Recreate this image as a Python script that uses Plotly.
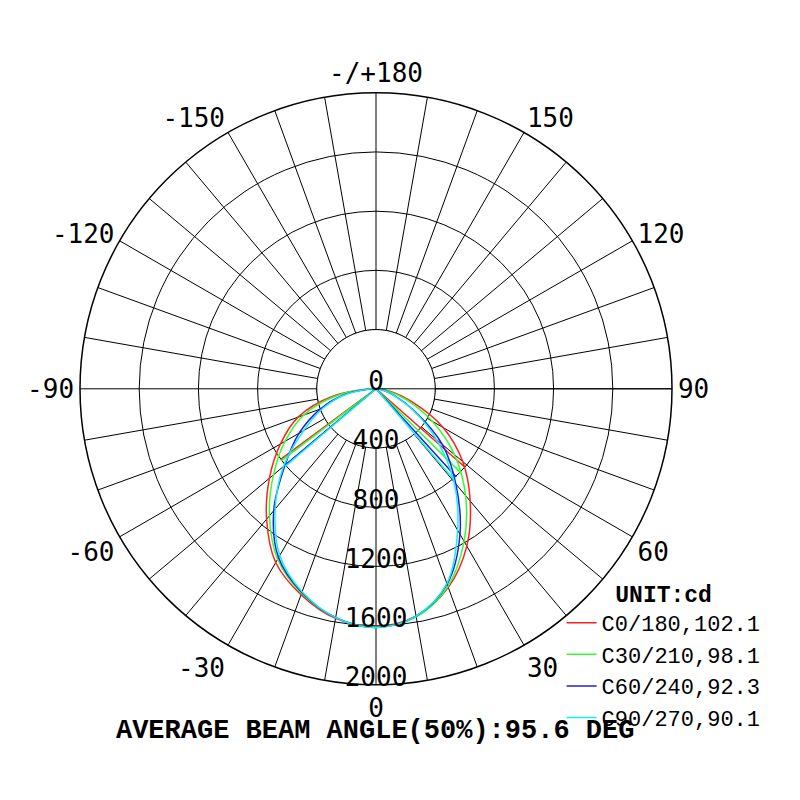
import numpy as np
import plotly.graph_objects as go

# gamma angles (deg), negative = C180.. half, positive = C0.. half
angles = [-90, -80, -70, -60, -50, -40, -30, -20, -10, 0,
          10, 20, 30, 40, 50, 60, 70, 80, 90]

c0_180 = [0, 300, 560, 745, 940, 1150, 1355, 1480, 1575, 1605,
          1560, 1428, 1227, 990, 765, 525, 260, 100, 0]
c30_210 = [0, 270, 520, 710, 905, 1120, 1330, 1470, 1570, 1610,
           1565, 1420, 1190, 942, 692, 439, 220, 80, 0]
c60_240 = [0, 210, 400, 600, 802, 1075, 1317, 1465, 1570, 1612,
           1560, 1405, 1135, 839, 585, 300, 130, 40, 0]
c90_270 = [0, 200, 380, 564, 815, 1060, 1300, 1460, 1570, 1614,
           1560, 1400, 1103, 820, 532, 290, 120, 40, 0]

names = ["C0/180,102.1", "C30/210,98.1", "C60/240,92.3", "C90/270,90.1"]
colors = ["#ff2020", "#30ff30", "#2020e0", "#10f0f0"]

# 50% beam lines: half angle left / right and half intensity
beam_left = [53.5, 52.8, 50.0, 49.5]
beam_right = [48.6, 45.3, 42.3, 40.6]
beam_half = [802, 805, 806, 807]

r_ticks = [0, 400, 800, 1200, 1600, 2000]
ang_labels = {0: "0", 30: "30", 60: "60", 90: "90", 120: "120", 150: "150",
              180: "-/+180", 210: "-150", 240: "-120", 270: "-90",
              300: "-60", 330: "-30"}

ang_vals = list(range(0, 360, 10))
ang_text = [ang_labels.get(a, "") for a in ang_vals]

fig = go.Figure()

# blank inner disk (spokes start at the first ring)
circ = np.linspace(0, 360, 181)
fig.add_trace(go.Scatterpolar(r=[r_ticks[1]] * len(circ), theta=circ, mode="lines",
                              fill="toself", fillcolor="white",
                              line=dict(color="black", width=1),
                              showlegend=False, hoverinfo="skip"))

series = [c0_180, c30_210, c60_240, c90_270]
for i, vals in enumerate(series):
    fig.add_trace(go.Scatterpolar(r=vals, theta=angles, mode="lines", name=names[i],
                                  line=dict(color=colors[i], width=1.5, shape="spline",
                                            smoothing=1.0)))
    fig.add_trace(go.Scatterpolar(r=[beam_half[i], 0, beam_half[i]],
                                  theta=[-beam_left[i], 0, beam_right[i]],
                                  mode="lines", line=dict(color=colors[i], width=1.5),
                                  showlegend=False, hoverinfo="skip"))

# radial value labels along the 0 direction, drawn on an overlay polar with the
# same cd-per-pixel scale but offset by ~8px so labels sit just inside each ring
fig.add_trace(go.Scatterpolar(r=r_ticks, theta=[0] * len(r_ticks), mode="text",
                              text=[str(v) for v in r_ticks], textposition="top center",
                              textfont=dict(family="DejaVu Sans Mono", size=26, color="black"),
                              subplot="polar2", cliponaxis=False,
                              showlegend=False, hoverinfo="skip"))

# page body adds ~8px offset, positions below compensate for it
fig.update_layout(
    width=800, height=800,
    margin=dict(l=0, r=0, t=0, b=0),
    paper_bgcolor="white",
    polar=dict(
        domain=dict(x=[0.09, 0.83], y=[0.154, 0.894]),
        bgcolor="white",
        radialaxis=dict(range=[0, 2000], tickvals=r_ticks[1:], showticklabels=False,
                        ticks="", gridcolor="black", gridwidth=1,
                        showline=True, linecolor="black", linewidth=1),
        angularaxis=dict(rotation=-90, direction="counterclockwise",
                         tickvals=ang_vals, ticktext=ang_text, ticks="",
                         gridcolor="black", gridwidth=1,
                         showline=True, linecolor="black", linewidth=1.5,
                         tickfont=dict(family="DejaVu Sans Mono", size=26, color="black")),
    ),
    polar2=dict(
        domain=dict(x=[0.07, 0.85], y=[0.134, 0.914]),
        bgcolor="rgba(0,0,0,0)",
        radialaxis=dict(range=[-54, 2054], visible=False),
        angularaxis=dict(rotation=-90, direction="counterclockwise", visible=False),
    ),
    legend=dict(x=0.692, y=0.295, xanchor="left", yanchor="top",
                font=dict(family="Liberation Mono", size=22, color="black"),
                title=dict(text="<b>UNIT:cd</b>", side="top center",
                           font=dict(family="Liberation Mono", size=23, color="black")),
                bgcolor="rgba(0,0,0,0)"),
    title=dict(text="<b>AVERAGE BEAM ANGLE(50%):95.6 DEG</b>",
               x=0.459, xanchor="center", y=0.099, yanchor="middle",
               font=dict(family="Liberation Mono", size=27, color="black")),
)

fig.write_html("out.html")
